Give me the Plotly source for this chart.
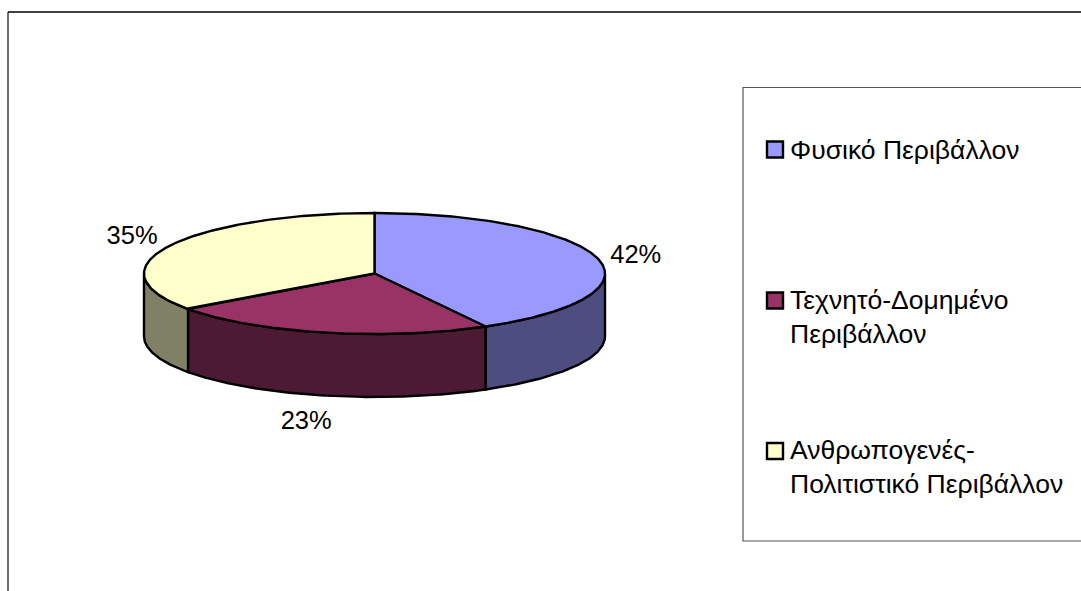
import numpy as np
import plotly.graph_objects as go

categories = ["Φυσικό Περιβάλλον", "Τεχνητό-Δομημένο Περιβάλλον", "Ανθρωπογενές-Πολιτιστικό Περιβάλλον"]
legend_labels = ["Φυσικό Περιβάλλον<br> ", "Τεχνητό-Δομημένο<br>Περιβάλλον", "Ανθρωπογενές-<br>Πολιτιστικό Περιβάλλον"]
values = [42, 23, 35]
top_colors = ["#9999FF", "#993366", "#FFFFCC"]
side_colors = ["#4D4D80", "#4D1A33", "#808066"]

W, H = 1081, 591
CX, CY, RX, RY, DEPTH = 374.5, 273.5, 230.5, 60.5, 63
FONT = "Liberation Sans, Arial, sans-serif"
LABEL_FS = 25.5
LEGEND_FS = 26.5
label_offsets = [(38, -2), (-18, 90), (-37, -8)]
swatch_y = [149.5, 300.5, 451]


def ellipse(t0, t1, dy=0.0):
    t = np.radians(np.linspace(t0, t1, max(int(abs(t1 - t0) * 2), 2)))
    return CX + RX * np.sin(t), CY + dy - RY * np.cos(t)


fig = go.Figure()
fr = np.cumsum([0] + values) / sum(values) * 360

# walls of the cylinder, only the front half (90..270 deg) is visible
for i in range(len(values)):
    a, b = max(fr[i], 90), min(fr[i + 1], 270)
    if a >= b:
        continue
    x1, y1 = ellipse(a, b)
    x2, y2 = ellipse(b, a, DEPTH)
    fig.add_trace(go.Scatter(
        x=np.r_[x1, x2, x1[0]], y=np.r_[y1, y2, y1[0]], mode="lines", fill="toself",
        fillcolor=side_colors[i], line=dict(color="black", width=2.4), showlegend=False, hoverinfo="skip"))

# top faces
for i in range(len(values)):
    x1, y1 = ellipse(fr[i], fr[i + 1])
    fig.add_trace(go.Scatter(
        x=np.r_[CX, x1, CX], y=np.r_[CY, y1, CY], mode="lines", fill="toself",
        fillcolor=top_colors[i], line=dict(color="black", width=2.4), showlegend=False,
        name=categories[i], hoverinfo="name"))

# data labels
for i, v in enumerate(values):
    m = np.radians((fr[i] + fr[i + 1]) / 2)
    fig.add_trace(go.Scatter(
        x=[CX + RX * np.sin(m) + label_offsets[i][0]],
        y=[CY - RY * np.cos(m) + label_offsets[i][1]],
        mode="text", text=[f"{v}%"], textposition="middle center",
        textfont=dict(family=FONT, size=LABEL_FS, color="black"), showlegend=False, hoverinfo="skip"))

# legend entries (text); their keys are drawn level with the first line as shapes below
for i, lab in enumerate(legend_labels):
    fig.add_trace(go.Scatter(
        x=[None], y=[None], mode="markers", name=lab, legendgroup=f"g{i}",
        marker=dict(symbol="square", size=15, color="rgba(0,0,0,0)", line=dict(color="rgba(0,0,0,0)", width=0))))

shapes = [
    dict(type="line", xref="x", yref="y", x0=8, x1=8, y0=12, y1=H + 5, line=dict(color="#404040", width=1.5)),
    dict(type="line", xref="x", yref="y", x0=8, x1=W + 5, y0=12, y1=12, line=dict(color="black", width=1.5)),
    dict(type="rect", xref="x", yref="y", x0=743, x1=W + 10, y0=87.5, y1=541,
         line=dict(color="#555555", width=1.2), layer="below"),
]
for c, sy in zip(top_colors, swatch_y):
    shapes.append(dict(type="rect", xref="x", yref="y", x0=767, x1=783, y0=sy - 8, y1=sy + 8,
                       fillcolor=c, line=dict(color="black", width=2.4)))

fig.update_layout(
    width=W, height=H, margin=dict(l=0, r=0, t=0, b=0),
    paper_bgcolor="white", plot_bgcolor="white",
    xaxis=dict(range=[0, W], visible=False, fixedrange=True),
    yaxis=dict(range=[H, 0], visible=False, fixedrange=True),
    legend=dict(x=750 / W, y=1 - 125 / H, xanchor="left", yanchor="top", bgcolor="rgba(0,0,0,0)",
                font=dict(family=FONT, size=LEGEND_FS, color="black"), tracegroupgap=78,
                traceorder="grouped", itemclick=False, itemdoubleclick=False),
    shapes=shapes,
    showlegend=True,
)

fig.write_html("out.html", config={"displayModeBar": False}, post_script="document.body.style.margin='0';")
